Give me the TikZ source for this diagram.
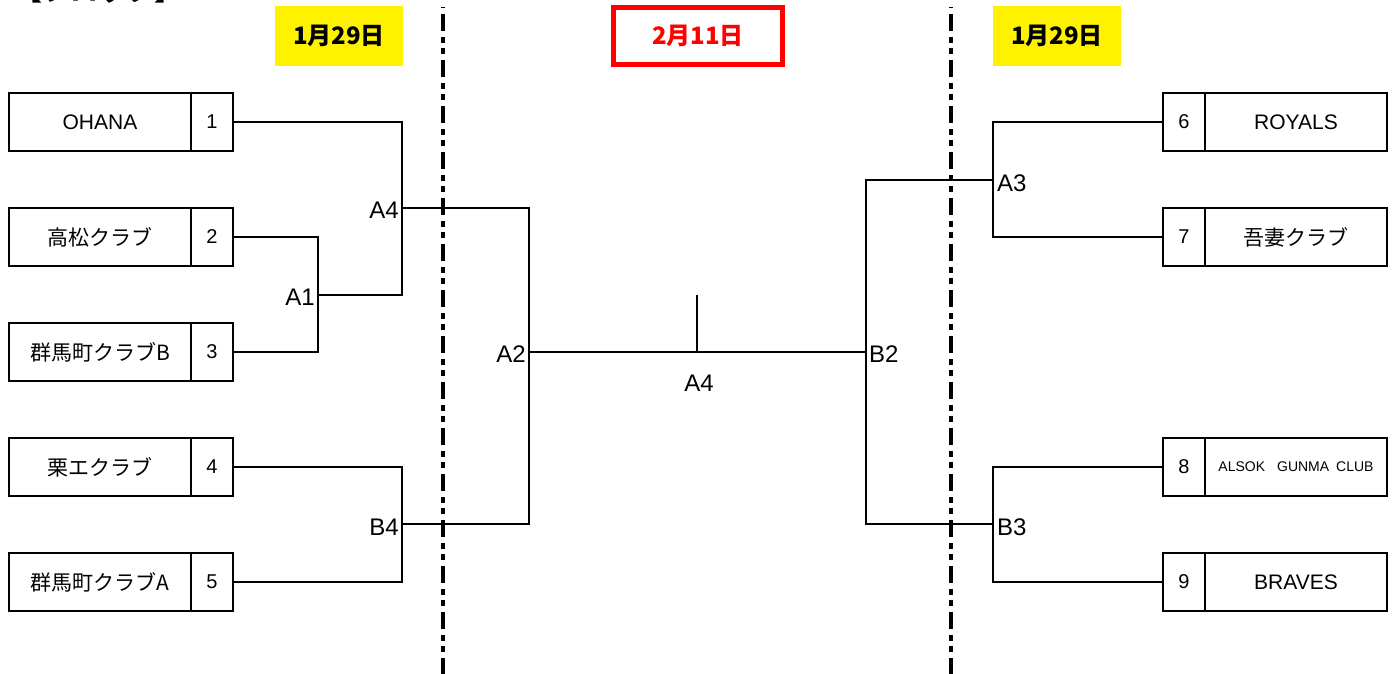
\documentclass[tikz,border=0pt]{standalone}
\usepackage{fontspec}
\setmainfont{Liberation Sans}
\newfontfamily\jp{Noto Sans CJK JP}
\begin{document}
\begin{tikzpicture}[x=1pt,y=-1pt,
  box/.style={draw,line width=2pt,inner sep=0pt,minimum height=58pt},
  namebox/.style={box,minimum width=182pt,font=\fontsize{21}{21}\selectfont},
  numbox/.style={box,minimum width=42pt,font=\fontsize{20}{20}\selectfont},
  conn/.style={line width=2pt},
  lbl/.style={inner sep=0pt,font=\fontsize{24}{24}\selectfont},
  datebox/.style={fill=yellow,minimum width=128pt,minimum height=60pt,inner sep=0pt,font=\jp\bfseries\fontsize{24}{24}\selectfont},
  dd/.style={line width=4pt,dash pattern=on 17pt off 6pt on 6pt off 5pt on 6pt off 6pt}]
\useasboundingbox (0,0) rectangle (1392,673);
\clip (0,0) rectangle (1392,673);
% title fragment
\node[anchor=base west,inner sep=0pt,font=\jp\bfseries\fontsize{28}{28}\selectfont] (title) at (14,0) {【ブロック】};
% date labels
\node[datebox] (d1) at (339,36) {1月29日};
\node[datebox] (d3) at (1057,36) {1月29日};
\node[draw=red,line width=5pt,minimum width=169pt,minimum height=57pt,inner sep=0pt,text=red,font=\jp\bfseries\fontsize{24}{24}\selectfont] (d2) at (698,36) {2月11日};
% dash-dot lines
\begin{scope}
\clip (0,7) rectangle (1392,673);
\draw[dd] (443,-32) coordinate (l1t) -- (443,690) coordinate (l1b);
\draw[dd] (951,-32) coordinate (l2t) -- (951,690) coordinate (l2b);
\end{scope}
% left boxes
\node[namebox] (t1) at (100,122) {OHANA};
\node[numbox] (n1) at (212,122) {1};
\node[namebox] (t2) at (100,237) {\jp 高松クラブ};
\node[numbox] (n2) at (212,237) {2};
\node[namebox] (t3) at (100,352) {\jp 群馬町クラブB};
\node[numbox] (n3) at (212,352) {3};
\node[namebox] (t4) at (100,467) {\jp 栗エクラブ};
\node[numbox] (n4) at (212,467) {4};
\node[namebox] (t5) at (100,582) {\jp 群馬町クラブA};
\node[numbox] (n5) at (212,582) {5};
% right boxes
\node[numbox] (n6) at (1184,122) {6};
\node[namebox] (t6) at (1296,122) {ROYALS};
\node[numbox] (n7) at (1184,237) {7};
\node[namebox] (t7) at (1296,237) {\jp 吾妻クラブ};
\node[numbox] (n8) at (1184,467) {8};
\node[namebox,font=\fontsize{14}{14}\selectfont] (t8) at (1296,467) {ALSOK\hspace{12pt}GUNMA\hspace{7pt}CLUB};
\node[numbox] (n9) at (1184,582) {9};
\node[namebox] (t9) at (1296,582) {BRAVES};
% junctions
\coordinate (a1) at (318,295);
\coordinate (a4) at (402,208);
\coordinate (b4) at (402,524);
\coordinate (a2) at (529,352);
\coordinate (b2) at (866,352);
\coordinate (a3) at (993,180);
\coordinate (b3) at (993,524);
\coordinate (f) at (697,352);
\coordinate (ft) at (697,295);
% connectors
\draw[conn] (n2.east) -| (a1) |- (n3.east);
\draw[conn] (n1.east) -| (a4);
\draw[conn] (a1) -| (a4);
\draw[conn] (n4.east) -| (b4) |- (n5.east);
\draw[conn] (a4) -| (a2);
\draw[conn] (b4) -| (a2);
\draw[conn] (a2) -- (b2);
\draw[conn] (f) -- (ft);
\draw[conn] (b2) |- (a3);
\draw[conn] (b2) |- (b3);
\draw[conn] (n6.west) -| (a3) |- (n7.west);
\draw[conn] (n8.west) -| (b3) |- (n9.west);
% labels
\node[lbl,anchor=east] (la1) at (315,297) {A1};
\node[lbl,anchor=east] (la4) at (399,210) {A4};
\node[lbl,anchor=east] (lb4) at (399,527) {B4};
\node[lbl,anchor=east] (la2) at (526,354) {A2};
\node[lbl] (lf) at (699,383) {A4};
\node[lbl,anchor=west] (lb2) at (869,354) {B2};
\node[lbl,anchor=west] (la3) at (997,183) {A3};
\node[lbl,anchor=west] (lb3) at (997,527) {B3};
\end{tikzpicture}
\end{document}
